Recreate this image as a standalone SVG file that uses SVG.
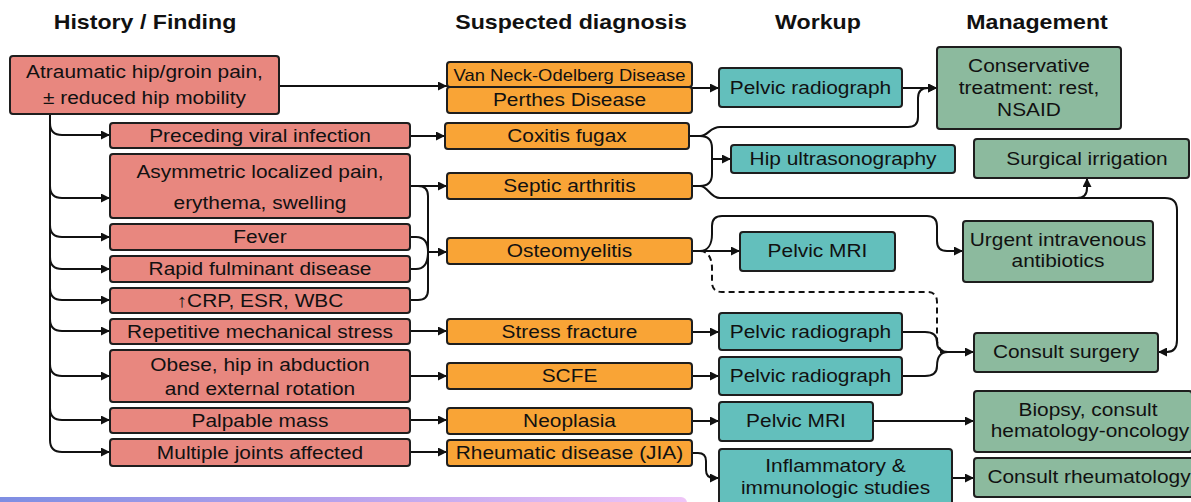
<svg xmlns="http://www.w3.org/2000/svg" width="1191" height="502" viewBox="0 0 1191 502">
  <style>
    text { font-family: "Liberation Sans", Arial, sans-serif; fill: #111; text-anchor: middle; }
    .h { font-size: 20.5px; font-weight: bold; }
    .b { font-size: 18.5px; }
    .s { font-size: 16.3px; }
    .box { stroke: #1e1e1e; stroke-width: 2; }
    .find { fill: #e8877f; }
    .dx { fill: #f9a436; }
    .wk { fill: #63bfbc; }
    .mg { fill: #8cba9e; }
    .ln { fill: none; stroke: #111; stroke-width: 2; }
    .arr { marker-end: url(#ah); }
    .dash { stroke-dasharray: 6 4; }
  </style>
  <defs>
    <marker id="ah" markerUnits="userSpaceOnUse" markerWidth="10" markerHeight="9" refX="9" refY="4.5" orient="auto">
      <path d="M0,0 L9,4.5 L0,9 z" fill="#111"/>
    </marker>
    <linearGradient id="bar" x1="0" y1="0" x2="1" y2="0">
      <stop offset="0" stop-color="#7c8de2"/>
      <stop offset="0.5" stop-color="#b8a2ec"/>
      <stop offset="1" stop-color="#efc5f7"/>
    </linearGradient>
  </defs>

  <rect width="1191" height="502" fill="#ffffff"/>

  <!-- column headings -->
  <g id="headings">
    <text class="h" transform="matrix(1.13 0 0 1 145 29)">History / Finding</text>
    <text class="h" transform="matrix(1.13 0 0 1 571 29)">Suspected diagnosis</text>
    <text class="h" transform="matrix(1.13 0 0 1 818 29)">Workup</text>
    <text class="h" transform="matrix(1.13 0 0 1 1037 29)">Management</text>
  </g>

  <!-- connectors -->
  <g id="connectors">
    <!-- trunk with branches to findings -->
    <path class="ln arr" d="M50,114 V440 Q50,452 62,452 H110"/>
    <path class="ln arr" d="M50,123 Q50,135 62,135 H110"/>
    <path class="ln arr" d="M50,186 Q50,198 62,198 H110"/>
    <path class="ln arr" d="M50,225 Q50,237 62,237 H110"/>
    <path class="ln arr" d="M50,257 Q50,269 62,269 H110"/>
    <path class="ln arr" d="M50,288 Q50,300 62,300 H110"/>
    <path class="ln arr" d="M50,319 Q50,331 62,331 H110"/>
    <path class="ln arr" d="M50,364 Q50,376 62,376 H110"/>
    <path class="ln arr" d="M50,408 Q50,420 62,420 H110"/>

    <!-- main complaint to Van Neck / Perthes -->
    <path class="ln arr" d="M279,86 H447"/>

    <!-- findings to diagnoses -->
    <path class="ln arr" d="M410,136 H445"/>
    <path class="ln arr" d="M410,186 H447"/>
    <path class="ln" d="M410,186 H418 Q428,186 428,196 V290 Q428,300 418,300 H410"/>
    <path class="ln" d="M410,237 H416 Q428,237 428,252"/>
    <path class="ln" d="M410,269 H416 Q428,269 428,252"/>
    <path class="ln arr" d="M428,252 H447"/>
    <path class="ln arr" d="M410,331 H447"/>
    <path class="ln arr" d="M410,376 H447"/>
    <path class="ln arr" d="M410,420 H447"/>
    <path class="ln arr" d="M410,452 H447"/>

    <!-- diagnoses to workup -->
    <path class="ln arr" d="M692,88 H719"/>
    <path class="ln arr" d="M902,88 H937"/>
    <path class="ln" d="M689,136 H700 Q712,136 712,148 V174 Q712,186 700,186 H692"/>
    <path class="ln arr" d="M712,159 H731"/>
    <path class="ln arr" d="M700,136 C708,136 710,127 720,127 H908 Q918,127 918,117 V98 Q918,88 928,88 H937"/>
    <path class="ln arr" d="M700,186 C708,186 710,198 720,198 H1165 Q1177,198 1177,210 V340 Q1177,352 1167,352 H1158"/>
    <path class="ln arr" d="M1077,198 Q1087,198 1087,188 V178"/>

    <path class="ln arr" d="M692,251 H740"/>
    <path class="ln arr" d="M700,251 C708,251 712,244 712,234 V226 Q712,216 722,216 H927 Q937,216 937,226 V241 Q937,251 947,251 H963"/>
    <path class="ln dash" d="M700,251 C708,251 712,258 712,268 V282 Q712,292 722,292 H927 Q937,292 937,302 V338 Q937,352 948,352"/>

    <path class="ln arr" d="M692,332 H719"/>
    <path class="ln arr" d="M692,376 H719"/>
    <path class="ln" d="M902,332 H925 Q937,332 937,342 Q937,352 948,352"/>
    <path class="ln" d="M902,376 H925 Q937,376 937,366 Q937,352 948,352"/>
    <path class="ln arr" d="M940,352 H974"/>

    <path class="ln arr" d="M692,421 H719"/>
    <path class="ln arr" d="M873,421 H974"/>
    <path class="ln arr" d="M692,453 H698 Q706,453 706,461 V470 Q706,478 714,478 H719"/>
    <path class="ln arr" d="M952,478 H974"/>
  </g>

  <!-- history / finding column -->
  <g id="n-main">
    <rect class="box find" x="10" y="56" width="269" height="58" rx="3"/>
    <text class="b" transform="matrix(1.13 0 0 1 144.5 78)">Atraumatic hip/groin pain,</text>
    <text class="b" transform="matrix(1.13 0 0 1 144.5 104)">± reduced hip mobility</text>
  </g>
  <g id="n-viral">
    <rect class="box find" x="110" y="123" width="300" height="25" rx="3"/>
    <text class="b" transform="matrix(1.13 0 0 1 260 142)">Preceding viral infection</text>
  </g>
  <g id="n-asym">
    <rect class="box find" x="110" y="154" width="300" height="64" rx="3"/>
    <text class="b" transform="matrix(1.13 0 0 1 260 178)">Asymmetric localized pain,</text>
    <text class="b" transform="matrix(1.13 0 0 1 260 209)">erythema, swelling</text>
  </g>
  <g id="n-fever">
    <rect class="box find" x="110" y="224" width="300" height="26" rx="3"/>
    <text class="b" transform="matrix(1.13 0 0 1 260 243)">Fever</text>
  </g>
  <g id="n-rapid">
    <rect class="box find" x="110" y="256" width="300" height="26" rx="3"/>
    <text class="b" transform="matrix(1.13 0 0 1 260 275)">Rapid fulminant disease</text>
  </g>
  <g id="n-crp">
    <rect class="box find" x="110" y="288" width="300" height="25" rx="3"/>
    <text class="b" transform="matrix(1.13 0 0 1 260 307)">↑CRP, ESR, WBC</text>
  </g>
  <g id="n-stress">
    <rect class="box find" x="110" y="319" width="300" height="25" rx="3"/>
    <text class="b" transform="matrix(1.13 0 0 1 260 338)">Repetitive mechanical stress</text>
  </g>
  <g id="n-obese">
    <rect class="box find" x="110" y="350" width="300" height="52" rx="3"/>
    <text class="b" transform="matrix(1.13 0 0 1 260 371)">Obese, hip in abduction</text>
    <text class="b" transform="matrix(1.13 0 0 1 260 395)">and external rotation</text>
  </g>
  <g id="n-mass">
    <rect class="box find" x="110" y="408" width="300" height="25" rx="3"/>
    <text class="b" transform="matrix(1.13 0 0 1 260 427)">Palpable mass</text>
  </g>
  <g id="n-joints">
    <rect class="box find" x="110" y="439" width="300" height="27" rx="3"/>
    <text class="b" transform="matrix(1.13 0 0 1 260 459)">Multiple joints affected</text>
  </g>

  <!-- suspected diagnosis column -->
  <g id="n-vanneck">
    <rect class="box dx" x="447" y="62" width="245" height="25" rx="3"/>
    <text class="s" transform="matrix(1.13 0 0 1 569.5 81)">Van Neck-Odelberg Disease</text>
  </g>
  <g id="n-perthes">
    <rect class="box dx" x="447" y="87" width="245" height="26" rx="3"/>
    <text class="b" transform="matrix(1.13 0 0 1 569.5 106)">Perthes Disease</text>
  </g>
  <g id="n-coxitis">
    <rect class="box dx" x="445" y="123" width="244" height="26" rx="3"/>
    <text class="b" transform="matrix(1.13 0 0 1 567 142)">Coxitis fugax</text>
  </g>
  <g id="n-septic">
    <rect class="box dx" x="447" y="173" width="245" height="26" rx="3"/>
    <text class="b" transform="matrix(1.13 0 0 1 569.5 192)">Septic arthritis</text>
  </g>
  <g id="n-osteo">
    <rect class="box dx" x="447" y="238" width="245" height="26" rx="3"/>
    <text class="b" transform="matrix(1.13 0 0 1 569.5 257)">Osteomyelitis</text>
  </g>
  <g id="n-fracture">
    <rect class="box dx" x="447" y="319" width="245" height="25" rx="3"/>
    <text class="b" transform="matrix(1.13 0 0 1 569.5 338)">Stress fracture</text>
  </g>
  <g id="n-scfe">
    <rect class="box dx" x="447" y="363" width="245" height="26" rx="3"/>
    <text class="b" transform="matrix(1.13 0 0 1 569.5 382)">SCFE</text>
  </g>
  <g id="n-neoplasia">
    <rect class="box dx" x="447" y="408" width="245" height="26" rx="3"/>
    <text class="b" transform="matrix(1.13 0 0 1 569.5 427)">Neoplasia</text>
  </g>
  <g id="n-rheum">
    <rect class="box dx" x="447" y="440" width="245" height="26" rx="3"/>
    <text class="b" transform="matrix(1.13 0 0 1 569.5 459)">Rheumatic disease (JIA)</text>
  </g>

  <!-- workup column -->
  <g id="n-xray1">
    <rect class="box wk" x="719" y="68" width="183" height="39" rx="3"/>
    <text class="b" transform="matrix(1.13 0 0 1 810.5 94)">Pelvic radiograph</text>
  </g>
  <g id="n-us">
    <rect class="box wk" x="731" y="145" width="224" height="28" rx="3"/>
    <text class="b" transform="matrix(1.13 0 0 1 843 165)">Hip ultrasonography</text>
  </g>
  <g id="n-mri1">
    <rect class="box wk" x="740" y="232" width="155" height="39" rx="3"/>
    <text class="b" transform="matrix(1.13 0 0 1 817.5 257)">Pelvic MRI</text>
  </g>
  <g id="n-xray2">
    <rect class="box wk" x="719" y="313" width="183" height="37" rx="3"/>
    <text class="b" transform="matrix(1.13 0 0 1 810.5 338)">Pelvic radiograph</text>
  </g>
  <g id="n-xray3">
    <rect class="box wk" x="719" y="357" width="183" height="38" rx="3"/>
    <text class="b" transform="matrix(1.13 0 0 1 810.5 382)">Pelvic radiograph</text>
  </g>
  <g id="n-mri2">
    <rect class="box wk" x="719" y="402" width="154" height="39" rx="3"/>
    <text class="b" transform="matrix(1.13 0 0 1 796 427)">Pelvic MRI</text>
  </g>
  <g id="n-labs">
    <rect class="box wk" x="719" y="449" width="233" height="62" rx="3"/>
    <text class="b" transform="matrix(1.13 0 0 1 835.5 472)">Inflammatory &amp;</text>
    <text class="b" transform="matrix(1.13 0 0 1 835.5 494)">immunologic studies</text>
  </g>

  <!-- management column -->
  <g id="n-conservative">
    <rect class="box mg" x="937" y="47" width="184" height="82" rx="3"/>
    <text class="b" transform="matrix(1.13 0 0 1 1029 72)">Conservative</text>
    <text class="b" transform="matrix(1.13 0 0 1 1029 94)">treatment: rest,</text>
    <text class="b" transform="matrix(1.13 0 0 1 1029 116)">NSAID</text>
  </g>
  <g id="n-irrigation">
    <rect class="box mg" x="974" y="139" width="215" height="39" rx="3"/>
    <text class="b" transform="matrix(1.13 0 0 1 1087 165)">Surgical irrigation</text>
  </g>
  <g id="n-antibiotics">
    <rect class="box mg" x="963" y="221" width="190" height="61" rx="3"/>
    <text class="b" transform="matrix(1.13 0 0 1 1058 246)">Urgent intravenous</text>
    <text class="b" transform="matrix(1.13 0 0 1 1058 267)">antibiotics</text>
  </g>
  <g id="n-surgery">
    <rect class="box mg" x="974" y="333" width="184" height="39" rx="3"/>
    <text class="b" transform="matrix(1.13 0 0 1 1066 358)">Consult surgery</text>
  </g>
  <g id="n-biopsy">
    <rect class="box mg" x="974" y="391" width="218" height="61" rx="3"/>
    <text class="b" transform="matrix(1.13 0 0 1 1088 416)">Biopsy, consult</text>
    <text class="b" transform="matrix(1.13 0 0 1 1090 437)">hematology-oncology</text>
  </g>
  <g id="n-rheumatology">
    <rect class="box mg" x="974" y="458" width="220" height="39" rx="3"/>
    <text class="b" transform="matrix(1.13 0 0 1 1089 483)">Consult rheumatology</text>
  </g>

  <!-- strip along the lower edge -->
  <rect x="-10" y="497" width="697" height="20" rx="6" fill="url(#bar)"/>
</svg>
